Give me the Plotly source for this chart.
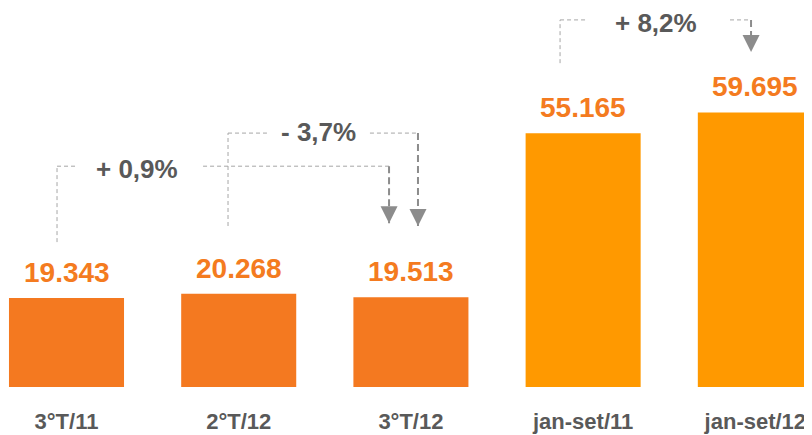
import plotly.graph_objects as go

# ---- data ----
categories = ["3°T/11", "2°T/12", "3°T/12", "jan-set/11", "jan-set/12"]
values = [19343, 20268, 19513, 55165, 59695]
value_labels = ["19.343", "20.268", "19.513", "55.165", "59.695"]
change_labels = ["+ 0,9%", "- 3,7%", "+ 8,2%"]

# ---- styles ----
bar_colors = ["#F47920", "#F47920", "#F47920", "#FF9900", "#FF9900"]
value_color = "#F47B20"
text_gray = "#595959"
thin_gray = "#A6A6A6"
thick_gray = "#8C8C8C"
FONT = "Liberation Sans, Arial, sans-serif"

# connector geometry (x in category-index units, y in data units)
conn_geom = [
    dict(xl=-0.055, yl=31500, yt=48000, xle=0.061, xt=0.412, xrs=0.793, xr=1.873, tip=35600, ty=-3),
    dict(xl=0.938, yl=35000, yt=55200, xle=1.164, xt=1.466, xrs=1.762, xr=2.041, tip=35000, ty=1),
    dict(xl=2.866, yl=70400, yt=79800, xle=3.022, xt=3.426, xrs=3.853, xr=3.975, tip=72800, ty=-3),
]

idx = list(range(len(categories)))

fig = go.Figure()
fig.add_trace(go.Bar(
    x=idx, y=values, marker=dict(color=bar_colors, line=dict(width=0)),
    width=0.668, hoverinfo="skip",
))

shapes = []
annotations = []

for i, (v, lab) in enumerate(zip(values, value_labels)):
    annotations.append(dict(
        x=i, y=v, xref="x", yref="y", text=lab, showarrow=False,
        yanchor="bottom", yshift=8,
        font=dict(family=FONT, size=28, color=value_color, weight="bold"),
    ))

for lab, g in zip(change_labels, conn_geom):
    thin = dict(color=thin_gray, width=1, dash="4px,3px")
    thick = dict(color=thick_gray, width=2, dash="7px,4px")
    shapes.append(dict(type="line", xref="x", yref="y", x0=g["xl"], x1=g["xl"], y0=g["yl"], y1=g["yt"], line=thin))
    shapes.append(dict(type="line", xref="x", yref="y", x0=g["xl"], x1=g["xle"], y0=g["yt"], y1=g["yt"], line=thin))
    shapes.append(dict(type="line", xref="x", yref="y", x0=g["xrs"], x1=g["xr"], y0=g["yt"], y1=g["yt"], line=thin))
    shapes.append(dict(type="line", xref="x", yref="y", x0=g["xr"], x1=g["xr"], y0=g["yt"], y1=g["tip"], line=thick))
    annotations.append(dict(
        x=g["xr"], y=g["tip"], xref="x", yref="y", text="", showarrow=True,
        ax=0, ay=-10, arrowhead=2, arrowsize=1.7, arrowwidth=2, arrowcolor=thick_gray,
        standoff=0,
    ))
    annotations.append(dict(
        x=g["xt"], y=g["yt"], xref="x", yref="y", text=lab, showarrow=False,
        yshift=g["ty"],
        font=dict(family=FONT, size=26, color=text_gray, weight="bold"),
    ))

fig.update_layout(
    width=804, height=427,
    margin=dict(l=0, r=0, t=0, b=48),
    paper_bgcolor="white", plot_bgcolor="white",
    showlegend=False,
    shapes=shapes, annotations=annotations,
    xaxis=dict(
        range=[-0.3397, 4.329], tickvals=idx, ticktext=categories,
        showgrid=False, zeroline=False, showline=False, ticks="",
        tickfont=dict(family=FONT, size=22, color=text_gray, weight="bold"),
        ticklabelstandoff=19, automargin=False, fixedrange=True,
    ),
    yaxis=dict(
        range=[0, 82391], visible=False, showgrid=False, zeroline=False,
        fixedrange=True,
    ),
)

fig.write_html("out.html")
